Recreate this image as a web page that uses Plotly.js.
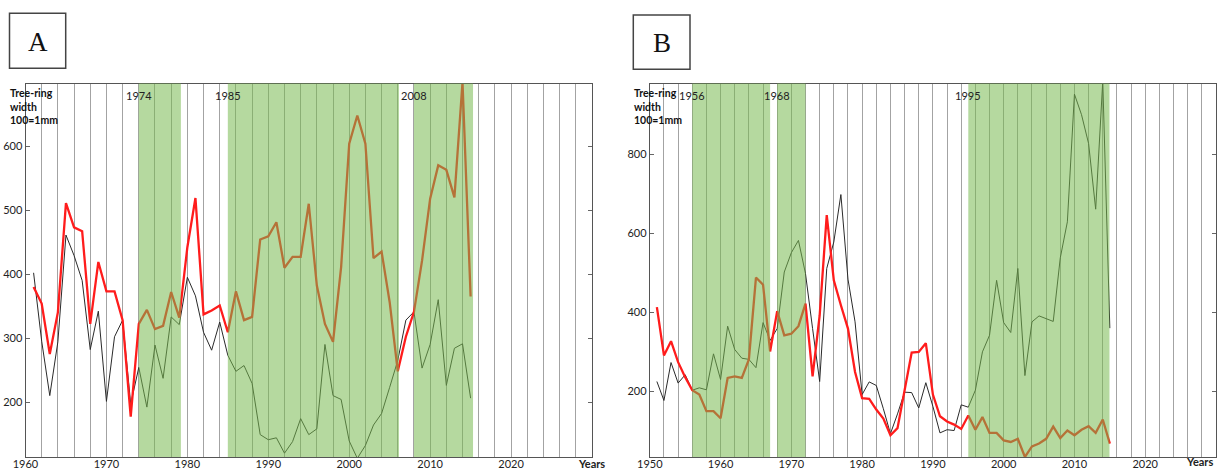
<!DOCTYPE html>
<html><head><meta charset="utf-8">
<script src="https://cdn.plot.ly/plotly-3.0.1.min.js"></script>
<style>html,body{margin:0;padding:0;background:#fff}#chart{width:1218px;height:469px}</style>
</head><body><div id="chart"></div><script>
// ---------- Panel A data ----------
const yearsA = [1961,1962,1963,1964,1965,1966,1967,1968,1969,1970,1971,1972,1973,1974,1975,1976,1977,1978,1979,1980,
  1981,1982,1983,1984,1985,1986,1987,1988,1989,1990,1991,1992,1993,1994,1995,1996,1997,1998,1999,2000,
  2001,2002,2003,2004,2005,2006,2007,2008,2009,2010,2011,2012,2013,2014,2015];
const redA = [380,354,275,340,511,473,467,322,419,373,373,328,177,322,344,314,319,372,332,442,
  519,337,343,351,309,373,328,333,454,459,481,410,427,427,510,382,322,294,411,604,
  648,604,425,435,356,248,302,341,421,518,570,563,520,700,365];
const blackA = [402,295,210,294,461,429,390,282,342,201,302,328,197,254,192,289,237,333,321,395,
  366,309,281,325,273,248,257,229,149,141,144,120,138,174,149,158,290,210,204,139,
  112,132,164,182,223,265,328,341,253,290,360,226,284,291,206];
const bandStartA = [1974, 1985, 2008];
const bandEndA = [1979.2, 2006.15, 2015.3];
const bandLabelA = ['1974', '1985', '2008'];
const xTicksA = [1960,1970,1980,1990,2000,2010,2020,2030];
const xTextA = ['1960','1970','1980','1990','2000','2010','2020','<b>Years</b>'];
const yTicksA = [200,300,400,500,600];

// ---------- Panel B data ----------
const yearsB = [1951,1952,1953,1954,1955,1956,1957,1958,1959,1960,1961,1962,1963,1964,1965,1966,1967,1968,1969,1970,
  1971,1972,1973,1974,1975,1976,1977,1978,1979,1980,1981,1982,1983,1984,1985,1986,1987,1988,1989,1990,
  1991,1992,1993,1994,1995,1996,1997,1998,1999,2000,2001,2002,2003,2004,2005,2006,2007,2008,2009,2010,
  2011,2012,2013,2014,2015];
const redB = [413,291,327,274,236,203,192,150,150,132,234,238,234,281,488,470,301,403,342,346,
  365,422,238,392,646,481,418,359,249,183,181,154,131,89,107,198,298,300,322,192,
  137,124,116,105,139,103,135,95,95,76,72,80,34,61,68,80,111,82,101,89,
  103,112,95,129,68];
const blackB = [225,177,273,221,242,203,209,204,295,230,365,306,284,281,260,374,329,359,502,551,
  582,498,359,225,511,578,698,484,376,192,224,215,156,93,143,198,197,158,222,162,
  95,103,101,166,160,203,300,342,481,374,349,511,240,376,391,384,377,538,629,952,
  900,827,661,985,360];
const bandStartB = [1956, 1968, 1995];
const bandEndB = [1967, 1972, 2014.95];
const bandLabelB = ['1956', '1968', '1995'];
const xTicksB = [1950,1960,1970,1980,1990,2000,2010,2020];
const xTextB = ['1950','1960','1970','1980','1990','2000','2010','2020'];
const yTicksB = [200,400,600,800];

// ---------- Layout ----------
const W = 1218, H = 469;
const FONT = 'Lato, "Open Sans", sans-serif';
const GRID = '#a3a3a3';
const BAND = 'rgba(120,185,80,0.55)';

const traces = [
  {x: yearsA, y: blackA, xaxis:'x', yaxis:'y', mode:'lines', line:{color:'#2a2a2a', width:1}, hoverinfo:'skip'},
  {x: yearsA, y: redA, xaxis:'x', yaxis:'y', mode:'lines', line:{color:'#ff1c1c', width:2.3}, hoverinfo:'skip'},
  {x: yearsB, y: blackB, xaxis:'x2', yaxis:'y2', mode:'lines', line:{color:'#2a2a2a', width:1}, hoverinfo:'skip'},
  {x: yearsB, y: redB, xaxis:'x2', yaxis:'y2', mode:'lines', line:{color:'#ff1c1c', width:2.3}, hoverinfo:'skip'}
];

function xAxis(domain, range, vals, text, anchor) {
  return {
    domain: domain, range: range, anchor: anchor,
    tickmode:'array', tickvals: vals, ticktext: text,
    showgrid: true, gridcolor: GRID, gridwidth: 1,
    minor: {dtick: 2, tick0: range[0], showgrid: true, gridcolor: GRID, gridwidth: 1},
    showline: true, linecolor: '#555', linewidth: 1, mirror: true,
    ticks: '', zeroline: false, ticklabelstandoff: -3, ticklabeloverflow: 'allow',
    tickfont: {family: FONT, size: 11, color: '#222'}
  };
}
function yAxis(domain, range, vals, anchor) {
  return {
    domain: domain, range: range, anchor: anchor,
    tickmode:'array', tickvals: vals,
    showgrid: false, zeroline: false,
    showline: true, linecolor: '#555', linewidth: 1, mirror: 'ticks',
    ticks: 'inside', ticklen: 4, tickcolor: '#666',
    tickfont: {family: FONT, size: 11, color: '#222'}
  };
}

const yDom = [1 - 457/H, 1 - 83.5/H];
const shapes = [];
const annotations = [];

function addBands(starts, ends, labels, xref, yref) {
  for (let i = 0; i < starts.length; i++) {
    shapes.push({type:'rect', xref: xref, yref: yref + ' domain', x0: starts[i], x1: ends[i], y0: 0, y1: 1,
      fillcolor: BAND, line: {width: 0}, layer: 'above'});
    annotations.push({xref: xref, yref: 'paper', x: starts[i], y: 1 - 95/H, text: labels[i],
      showarrow: false, xanchor: 'center', yanchor: 'middle',
      font: {family: FONT, size: 11, color: '#222'}});
  }
}
addBands(bandStartA, bandEndA, bandLabelA, 'x', 'y');
addBands(bandStartB, bandEndB, bandLabelB, 'x2', 'y2');

// panel letter boxes
function letterBox(x0, x1, y0, y1, letter) {
  shapes.push({type:'rect', xref:'paper', yref:'paper', x0: x0/W, x1: x1/W, y0: 1 - y1/H, y1: 1 - y0/H,
    line: {color: '#444', width: 1.5}, fillcolor: 'rgba(0,0,0,0)'});
  annotations.push({xref:'paper', yref:'paper', x: (x0 + x1)/2/W, y: 1 - ((y0 + y1)/2 + 1)/H, text: letter,
    showarrow: false, xanchor:'center', yanchor:'middle',
    font: {family: '"Liberation Serif", "DejaVu Serif", serif', size: 27, color: '#111'}});
}
letterBox(9.5, 65.7, 13.3, 68.3, 'A');
letterBox(633.3, 690, 15, 69.3, 'B');

// y-axis titles
function yTitle(xpx) {
  annotations.push({xref:'paper', yref:'paper', x: xpx/W, y: 1 - 85/H, xanchor:'left', yanchor:'top',
    align:'left', showarrow:false, text:'<b>Tree-ring<br>width<br>100=1mm</b>',
    font: {family: FONT, size: 10.5, color: '#111'}});
}
yTitle(8);
yTitle(632);

// "Years" label at the right end of panel B
annotations.push({xref:'paper', yref:'paper', x: 1214/W, y: 0, xanchor:'right', yanchor:'bottom',
  borderpad: 0, text:'<b>Years</b>', showarrow:false, font: {family: FONT, size: 11, color: '#222'}});

const layout = {
  width: W, height: H,
  margin: {l: 0, r: 0, t: 0, b: 0},
  paper_bgcolor: '#fff', plot_bgcolor: '#fff',
  showlegend: false,
  xaxis: xAxis([25.5/W, 592/W], [1960, 2030], xTicksA, xTextA, 'y'),
  yaxis: yAxis(yDom, [114, 698], yTicksA, 'x'),
  xaxis2: xAxis([649.8/W, 1216/W], [1950, 2030], xTicksB, xTextB, 'y2'),
  yaxis2: yAxis(yDom, [34, 979], yTicksB, 'x2'),
  shapes: shapes,
  annotations: annotations
};

Plotly.newPlot('chart', traces, layout, {staticPlot: true, displayModeBar: false});
</script></body></html>
